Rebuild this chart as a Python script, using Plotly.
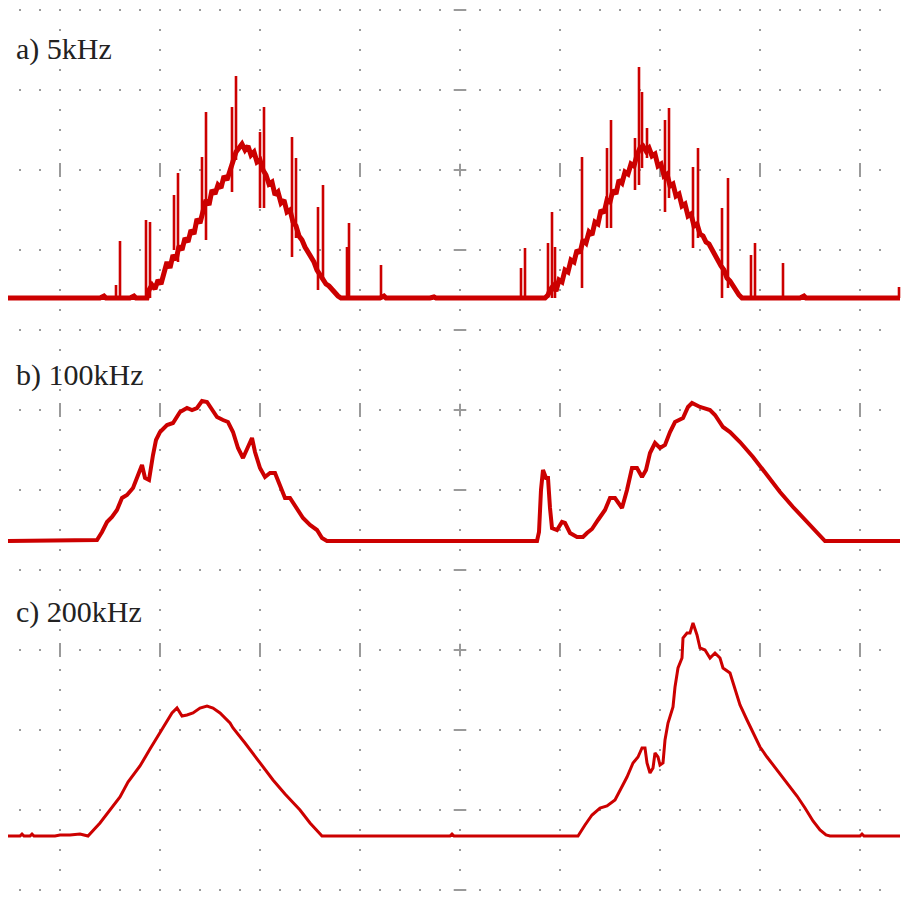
import plotly.graph_objects as go

# Horizontal: time in µs from the left edge of the screen (100 µs/div).
# Vertical: mV above each channel's ground level (80 mV/div).

# ---- a) 5 kHz ----
t_a = [8, 100, 104, 106, 130, 134, 136, 147, 149, 152, 155, 158, 161, 164, 167, 170,
       173, 176, 179, 182, 185, 188, 191, 194, 197, 200, 203, 206, 209, 212, 215, 218,
       221, 224, 227, 230, 233, 236, 239, 242, 245, 248, 251, 254, 257, 260, 263, 266,
       269, 272, 275, 278, 281, 284, 287, 290, 293, 296, 299, 302, 305, 308, 311, 314,
       317, 320, 323, 326, 329, 332, 335, 338, 341, 380, 384, 386, 430, 434, 436,
       545, 548, 550, 553, 556, 559, 562, 565, 568, 571, 574, 577, 580, 583, 586, 589,
       592, 595, 598, 601, 604, 607, 610, 613, 616, 619, 622, 625, 628, 631, 634, 637,
       640, 643, 646, 649, 652, 655, 658, 661, 664, 667, 670, 673, 676, 679, 682, 685,
       688, 691, 694, 697, 700, 703, 706, 709, 712, 715, 718, 721, 724, 727, 730, 733,
       736, 739, 742, 800, 804, 806, 900]
v_a = [0, 0, 2, 0, 0, 2, 0, 0, 8, 13, 9, 18, 14, 26, 36, 30,
       43, 38, 52, 48, 60, 56, 68, 64, 79, 75, 88, 98, 93, 108, 104, 113,
       110, 122, 118, 128, 138, 146, 150, 154, 148, 152, 143, 146, 136, 138, 128, 123,
       114, 116, 103, 106, 95, 98, 86, 88, 76, 72, 62, 58, 51, 46, 40, 36,
       28, 23, 20, 14, 12, 8, 6, 2, 0, 0, 2, 0, 0, 1, 0,
       0, 3, 8, 12, 7, 18, 16, 28, 26, 38, 36, 48, 45, 58, 55, 66,
       63, 76, 74, 88, 85, 98, 96, 108, 104, 118, 115, 126, 124, 134, 132, 143,
       150, 152, 147, 150, 142, 144, 132, 134, 122, 124, 112, 114, 102, 104, 92, 94,
       82, 84, 72, 74, 64, 62, 56, 54, 48, 42, 38, 32, 28, 20, 17, 12,
       9, 3, 0, 0, 2, 0, 0]

# glitches riding on the 5 kHz trace: time, low end, high end (mV)
glitch_t_a = [116, 120, 146, 150, 174, 178, 202, 206, 232, 236, 260, 264, 292, 296,
              318, 323, 347, 349, 381,
              521, 525, 548, 552, 555, 582, 607, 611, 635, 639, 642, 647, 665, 669,
              693, 698, 722, 728, 751, 755, 783, 899]
glitch_lo_a = [0, 0, 0, 0, 48, 36, 83, 58, 106, 138, 90, 90, 41, 60,
               8, 20, 0, 0, 0,
               0, 0, 0, 0, 0, 10, 70, 70, 108, 113, 130, 140, 86, 100,
               50, 60, 0, 10, 0, 0, 0, 0]
glitch_hi_a = [13, 57, 78, 76, 103, 125, 141, 186, 191, 222, 166, 191, 161, 140,
               91, 113, 51, 75, 33,
               30, 50, 55, 86, 51, 141, 150, 178, 160, 231, 206, 170, 178, 190,
               131, 150, 90, 120, 43, 55, 35, 11]

# ---- b) 100 kHz ----
t_b = [8, 97, 102, 107, 112, 117, 122, 127, 133, 138, 142, 145, 149, 153, 156, 160,
       167, 173, 180, 187, 192, 197, 202, 207, 212, 217, 223, 228, 233, 238, 243, 247,
       252, 255, 260, 265, 270, 275, 280, 285, 290, 297, 303, 310, 317, 322, 327,
       537, 539, 541, 543, 546, 548, 550, 552, 557, 562, 565, 570, 577, 583, 587, 592,
       598, 605, 610, 615, 622, 627, 632, 637, 642, 646, 650, 655, 660, 665, 670, 675,
       683, 688, 692, 700, 710, 715, 723, 730, 740, 753, 767, 780, 793, 807, 820, 825, 900]
v_b = [0, 1, 9, 19, 24, 31, 43, 46, 53, 66, 76, 63, 61, 86, 101, 109,
       116, 118, 129, 133, 131, 133, 140, 139, 131, 124, 121, 119, 109, 93, 83, 93,
       103, 89, 73, 64, 68, 68, 56, 43, 43, 33, 23, 16, 11, 3, 0,
       0, 9, 51, 71, 63, 63, 33, 13, 11, 19, 18, 8, 4, 4, 8, 12,
       21, 31, 43, 43, 33, 51, 73, 73, 64, 71, 88, 98, 93, 96, 109, 119,
       123, 134, 138, 134, 131, 126, 114, 109, 99, 84, 66, 49, 34, 19, 4, 0, 0]

# ---- c) 200 kHz ----
t_c = [8, 20, 22, 24, 30, 32, 34, 55, 60, 70, 80, 88, 100, 110, 120, 128, 140, 150,
       163, 172, 177, 182, 187, 193, 200, 207, 213, 220, 230, 233, 245, 255, 265, 273,
       285, 300, 310, 318, 322, 450, 452, 454, 578,
       585, 592, 600, 607, 615, 620, 627, 633, 638, 642, 645, 647, 650, 653, 655, 658,
       660, 663, 665, 668, 673, 675, 678, 682, 683, 687, 690, 693, 697, 700, 705, 710,
       715, 720, 723, 730, 735, 740, 747, 753, 760, 767, 777, 787, 797, 805, 813, 820,
       826, 830, 860, 862, 864, 900]
v_c = [0, 0, 2, 0, 0, 2, 0, 0, 1, 1, 2, 0, 13, 26, 39, 54, 70, 87,
       109, 123, 128, 120, 121, 123, 128, 130, 128, 123, 113, 108, 93, 80, 66, 56,
       42, 26, 13, 4, 0, 0, 2, 0, 0,
       11, 21, 28, 30, 36, 46, 59, 73, 79, 88, 88, 73, 63, 68, 83, 79,
       71, 73, 96, 113, 129, 149, 168, 178, 198, 203, 203, 213, 201, 188, 186, 178,
       183, 178, 168, 163, 146, 131, 116, 103, 89, 79, 66, 54, 40, 28, 15, 6,
       1, 0, 0, 2, 0, 0]

labels = ["a) 5kHz", "b) 100kHz", "c) 200kHz"]

# screen layout (µs / mV on the shared screen axes)
SCREEN_W, SCREEN_H = 901, 897
ground = {"a": 599, "b": 356, "c": 61}
label_y = {"a": 848, "b": 522, "c": 285}
grid_cols = [60 + 100 * k for k in range(9)]
grid_rows = [7 + 80 * k for k in range(12)]
center_rows = [727, 487, 247]
center_col = 460
RED = "#cc0000"
GRID = "#9a9a9a"

fig = go.Figure()

# dotted graticule
dx, dy = [], []
for r in grid_rows:
    for x in range(20, 900, 20):
        dx.append(x)
        dy.append(r)
for c in grid_cols:
    for y in range(7, 897, 20):
        dx.append(c)
        dy.append(y)
fig.add_trace(go.Scatter(x=dx, y=dy, mode="markers", hoverinfo="skip",
                         marker=dict(symbol="square", size=2, color=GRID,
                                     line=dict(width=0))))

# centre-line tick marks
hx = [center_col for r in grid_rows if r not in center_rows]
hy = [r for r in grid_rows if r not in center_rows]
fig.add_trace(go.Scatter(x=hx, y=hy, mode="markers", hoverinfo="skip",
                         marker=dict(symbol="line-ew", size=9,
                                     line=dict(width=2, color=GRID))))
vx = [c for r in center_rows for c in grid_cols if c != center_col]
vy = [r for r in center_rows for c in grid_cols if c != center_col]
fig.add_trace(go.Scatter(x=vx, y=vy, mode="markers", hoverinfo="skip",
                         marker=dict(symbol="line-ns", size=10,
                                     line=dict(width=2, color=GRID))))
fig.add_trace(go.Scatter(x=[center_col] * 3, y=center_rows, mode="markers",
                         hoverinfo="skip",
                         marker=dict(symbol="cross-thin", size=9,
                                     line=dict(width=2, color=GRID))))

# waveforms
fig.add_trace(go.Scatter(x=t_a, y=[ground["a"] + v for v in v_a], mode="lines",
                         line=dict(color=RED, width=5)))
gx, gy = [], []
for t, lo, hi in zip(glitch_t_a, glitch_lo_a, glitch_hi_a):
    gx += [t, t, None]
    gy += [ground["a"] + lo, ground["a"] + hi, None]
fig.add_trace(go.Scatter(x=gx, y=gy, mode="lines", connectgaps=False,
                         line=dict(color=RED, width=2.6)))
fig.add_trace(go.Scatter(x=t_b, y=[ground["b"] + v for v in v_b], mode="lines",
                         line=dict(color=RED, width=4)))
fig.add_trace(go.Scatter(x=t_c, y=[ground["c"] + v for v in v_c], mode="lines",
                         line=dict(color=RED, width=3)))

for key, text in zip(["a", "b", "c"], labels):
    fig.add_annotation(x=14, y=label_y[key], text=text, showarrow=False,
                       xanchor="left", yanchor="middle",
                       font=dict(family="Liberation Serif", size=30, color="#222222"))

fig.update_layout(
    width=SCREEN_W, height=SCREEN_H,
    margin=dict(l=0, r=0, t=0, b=0),
    paper_bgcolor="white", plot_bgcolor="white",
    showlegend=False,
    xaxis=dict(range=[0, SCREEN_W], visible=False, fixedrange=True),
    yaxis=dict(range=[0, SCREEN_H], visible=False, fixedrange=True),
)

fig.write_html("out.html")
